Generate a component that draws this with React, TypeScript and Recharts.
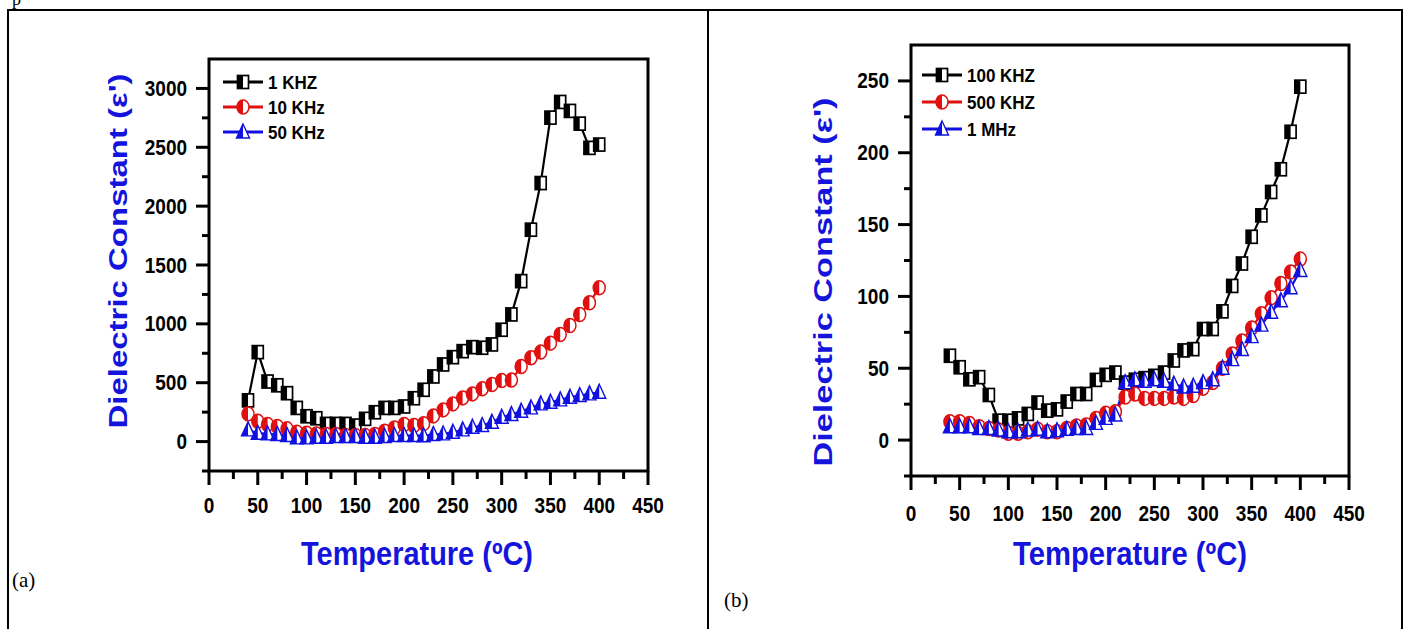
import React from 'react';
import { LineChart, Line, XAxis, YAxis, ReferenceArea } from 'recharts';

// temperature (°C) of every measurement
const TEMPS = [
  40, 50, 60, 70, 80, 90, 100, 110, 120, 130, 140, 150, 160, 170, 180, 190, 200, 210, 220,
  230, 240, 250, 260, 270, 280, 290, 300, 310, 320, 330, 340, 350, 360, 370, 380, 390, 400,
];

// panel (a)
const EPS_1KHZ = [
  350, 760, 510, 478, 411, 286, 215, 198, 150, 150, 150, 136, 193, 249, 286, 286, 298, 368, 440,
  553, 655, 717, 768, 802, 797, 825, 950, 1080, 1363, 1800, 2196, 2752, 2885, 2809, 2701, 2495, 2523,
];
const EPS_10KHZ = [
  235, 173, 145, 128, 108, 79, 71, 65, 60, 60, 51, 51, 51, 60, 88, 116, 145, 136, 152,
  218, 269, 320, 371, 405, 448, 485, 518, 522, 638, 712, 760, 836, 910, 986, 1080, 1179, 1307,
];
const EPS_50KHZ = [
  99, 71, 65, 60, 51, 31, 31, 37, 37, 43, 43, 43, 37, 37, 43, 51, 51, 51, 50,
  60, 65, 79, 99, 122, 136, 164, 207, 230, 258, 286, 320, 334, 354, 377, 391, 405, 419,
];

// panel (b)
const EPS_100KHZ = [
  58.7, 50.7, 42.3, 43.8, 31.4, 13.5, 13.5, 15.1, 18.2, 26.1, 20.5, 21.4, 26.8, 32.1, 32.1, 41.9, 45.4, 47, 40,
  42, 43.1, 44.7, 47, 55.4, 62.4, 63.3, 77.3, 77.3, 89.6, 107.3, 122.9, 141.5, 156.4, 172.7, 188.5, 214.6, 246,
];
const EPS_500KHZ = [
  12.8, 12.8, 11.6, 9.3, 8.1, 7, 4.7, 4.7, 5.8, 7.5, 5.8, 5.8, 8.1, 9.8, 10.5, 15.1, 18.6, 19.8, 30,
  32, 29, 29, 29, 30, 29, 31, 36, 40, 50, 60, 69, 78, 88, 99, 109, 117, 126,
];
const EPS_1MHZ = [
  9.3, 9.3, 9.3, 8.1, 8.1, 7, 5.8, 5.8, 7, 7.5, 5.8, 6.5, 7.5, 8.1, 8.1, 11.6, 15.1, 17.5, 40,
  42, 41, 42, 41, 39, 37, 37.5, 40, 42, 50, 56, 63, 72, 80, 89, 97, 106, 118,
];

// axis ticks (majors get a label, the rest are minor ticks)
const X_TICKS = [0, 25, 50, 75, 100, 125, 150, 175, 200, 225, 250, 275, 300, 325, 350, 375, 400, 425, 450];
const Y_TICKS_A = [-250, 0, 250, 500, 750, 1000, 1250, 1500, 1750, 2000, 2250, 2500, 2750, 3000];
const Y_TICKS_B = [-25, 0, 25, 50, 75, 100, 125, 150, 175, 200, 225, 250];

const SANS = "'Liberation Sans', Arial, Helvetica, sans-serif";
const TITLE_BLUE = '#1414dc';
const H = 629;

type MarkerProps = { cx: number; cy: number; color: string };

const HalfSquare = ({ cx, cy, color }: MarkerProps) => {
  const w = 11;
  const h = 13;
  return (
    <g>
      <rect x={cx - w / 2} y={cy - h / 2} width={w} height={h} fill="#fff" stroke={color} strokeWidth={1.7} />
      <rect x={cx - w / 2} y={cy - h / 2} width={w / 2} height={h} fill={color} />
    </g>
  );
};

const HalfCircle = ({ cx, cy, color }: MarkerProps) => {
  const rx = 6;
  const ry = 7;
  return (
    <g>
      <ellipse cx={cx} cy={cy} rx={rx} ry={ry} fill="#fff" stroke={color} strokeWidth={1.5} />
      <path d={`M${cx},${cy - ry} A${rx},${ry} 0 0 0 ${cx},${cy + ry} Z`} fill={color} />
    </g>
  );
};

const HalfTriangle = ({ cx, cy, color }: MarkerProps) => {
  const w = 13;
  const top = cy - 8;
  const bot = cy + 6;
  return (
    <g>
      <path d={`M${cx},${top} L${cx + w / 2},${bot} L${cx - w / 2},${bot} Z`} fill="#fff" stroke={color} strokeWidth={1.4} />
      <path d={`M${cx},${top} L${cx},${bot} L${cx - w / 2},${bot} Z`} fill={color} />
    </g>
  );
};

interface Series {
  key: string;
  name: string;
  values: number[];
  color: string;
  Marker: (p: MarkerProps) => React.ReactElement;
}

interface PanelProps {
  width: number;
  plot: { left: number; right: number; top: number; bottom: number };
  yDomain: [number, number];
  yTicks: number[];
  yMajor: number;
  series: Series[];
  legend: { x: number; y: number; gap: number };
  yTitle: { cx: number; cy: number; len: number };
  xTitle: { cx: number; cy: number; len: number };
  xLabelDy: number;
}

function Panel({ width, plot, yDomain, yTicks, yMajor, series, legend, yTitle, xTitle, xLabelDy }: PanelProps) {
  const rows = TEMPS.map((t, i) => {
    const row: Record<string, number> = { t };
    series.forEach((s) => {
      row[s.key] = s.values[i];
    });
    return row;
  });

  const xTick = (p: any) => {
    const v = p.payload.value;
    const major = v % 50 === 0;
    return (
      <g>
        <line x1={p.x} x2={p.x} y1={p.y} y2={p.y + (major ? 14 : 8)} stroke="#000" strokeWidth={3} />
        {major && (
          <text
            transform={`translate(${p.x}, ${p.y + xLabelDy}) scale(1, 1.12)`}
            textAnchor="middle"
            fontFamily={SANS}
            fontWeight={700}
            fontSize={19}
            fill="#000"
          >
            {v}
          </text>
        )}
      </g>
    );
  };

  const yTick = (p: any) => {
    const v = p.payload.value;
    const major = v % yMajor === 0;
    return (
      <g>
        <line x1={p.x} x2={p.x - (major ? 13 : 7)} y1={p.y} y2={p.y} stroke="#000" strokeWidth={3} />
        {major && (
          <text
            transform={`translate(${p.x - 22}, ${p.y + 7.5}) scale(1, 1.12)`}
            textAnchor="end"
            fontFamily={SANS}
            fontWeight={700}
            fontSize={19}
            fill="#000"
          >
            {v}
          </text>
        )}
      </g>
    );
  };

  return (
    <div style={{ position: 'relative', width, height: H }}>
      <LineChart
        width={width}
        height={H}
        data={rows}
        margin={{ top: plot.top, right: width - plot.right, bottom: H - plot.bottom - 40, left: plot.left - 60 }}
      >
        <XAxis
          dataKey="t"
          type="number"
          domain={[0, 450]}
          ticks={X_TICKS}
          interval={0}
          height={40}
          axisLine={false}
          tickLine={false}
          tickSize={0}
          tickMargin={0}
          tick={xTick}
          label={() => (
            <text
              transform={`translate(${xTitle.cx}, ${xTitle.cy}) scale(1, 1.25)`}
              x={-xTitle.len / 2}
              y={0}
              dominantBaseline="central"
              textLength={xTitle.len}
              lengthAdjust="spacingAndGlyphs"
              fontFamily={SANS}
              fontWeight={700}
              fontSize={26}
              fill={TITLE_BLUE}
            >
              Temperature (ºC)
            </text>
          )}
        />
        <YAxis
          type="number"
          domain={yDomain}
          ticks={yTicks}
          interval={0}
          width={60}
          allowDataOverflow
          axisLine={false}
          tickLine={false}
          tickSize={0}
          tickMargin={0}
          tick={yTick}
          label={() => (
            <text
              transform={`translate(${yTitle.cx}, ${yTitle.cy}) rotate(-90)`}
              x={-yTitle.len / 2}
              y={0}
              dominantBaseline="central"
              textLength={yTitle.len}
              lengthAdjust="spacingAndGlyphs"
              fontFamily={SANS}
              fontWeight={700}
              fontSize={25}
              fill={TITLE_BLUE}
            >
              Dielectric Constant (ε')
            </text>
          )}
        />
        <ReferenceArea x1={0} x2={450} y1={yDomain[0]} y2={yDomain[1]} fill="none" fillOpacity={0} stroke="#000" strokeWidth={3} />
        {series.map((s) => (
          <Line
            key={s.key}
            dataKey={s.key}
            type="linear"
            stroke={s.color}
            strokeWidth={2.2}
            isAnimationActive={false}
            activeDot={false}
            legendType="none"
            dot={(p: any) => <s.Marker key={`${s.key}-${p.index}`} cx={p.cx} cy={p.cy} color={s.color} />}
          />
        ))}
      </LineChart>
      {/* legend */}
      <svg width={width} height={H} style={{ position: 'absolute', left: 0, top: 0, pointerEvents: 'none' }}>
        {series.map((s, i) => {
          const y = legend.y + i * legend.gap;
          return (
            <g key={s.key}>
              <line x1={legend.x} x2={legend.x + 40} y1={y} y2={y} stroke={s.color} strokeWidth={3} />
              <s.Marker cx={legend.x + 20} cy={y} color={s.color} />
              <text
                transform={`translate(${legend.x + 45}, ${y + 6.5}) scale(1, 1.1)`}
                fontFamily={SANS}
                fontWeight={700}
                fontSize={17}
                fill="#000"
              >
                {s.name}
              </text>
            </g>
          );
        })}
      </svg>
    </div>
  );
}

const SERIES_A: Series[] = [
  { key: 'k1', name: '1 KHZ', values: EPS_1KHZ, color: '#000000', Marker: HalfSquare },
  { key: 'k10', name: '10 KHz', values: EPS_10KHZ, color: '#e01010', Marker: HalfCircle },
  { key: 'k50', name: '50 KHz', values: EPS_50KHZ, color: '#1010e0', Marker: HalfTriangle },
];

const SERIES_B: Series[] = [
  { key: 'k100', name: '100 KHZ', values: EPS_100KHZ, color: '#000000', Marker: HalfSquare },
  { key: 'k500', name: '500 KHZ', values: EPS_500KHZ, color: '#e01010', Marker: HalfCircle },
  { key: 'm1', name: '1 MHz', values: EPS_1MHZ, color: '#1010e0', Marker: HalfTriangle },
];

export default function App() {
  return (
    <div style={{ position: 'absolute', left: 0, top: 0, width: 1408, height: H, overflow: 'hidden', background: '#fff' }}>
      <span style={{ position: 'absolute', left: 12, top: -11, fontFamily: "'Liberation Serif', serif", fontSize: 18, lineHeight: '20px' }}>p</span>
      <div style={{ position: 'absolute', left: 7, top: 9, width: 1396, height: 700, border: '2px solid #000', boxSizing: 'border-box' }} />
      <div style={{ position: 'absolute', left: 707, top: 9, width: 2, height: 640, background: '#000' }} />

      <div style={{ position: 'absolute', left: 0, top: 0 }}>
        <Panel
          width={705}
          plot={{ left: 209, right: 648, top: 59, bottom: 471 }}
          yDomain={[-250, 3250]}
          yTicks={Y_TICKS_A}
          yMajor={500}
          series={SERIES_A}
          legend={{ x: 223, y: 82, gap: 25 }}
          yTitle={{ cx: 118, cy: 251, len: 355 }}
          xTitle={{ cx: 417, cy: 553, len: 232 }}
          xLabelDy={42}
        />
      </div>
      <div style={{ position: 'absolute', left: 710, top: 0 }}>
        <Panel
          width={690}
          plot={{ left: 201, right: 639, top: 45, bottom: 476 }}
          yDomain={[-25, 275]}
          yTicks={Y_TICKS_B}
          yMajor={50}
          series={SERIES_B}
          legend={{ x: 212, y: 75, gap: 27 }}
          yTitle={{ cx: 113, cy: 282, len: 369 }}
          xTitle={{ cx: 420, cy: 553, len: 234 }}
          xLabelDy={45}
        />
      </div>

      <span style={{ position: 'absolute', left: 12, top: 568, fontFamily: "'Liberation Serif', serif", fontSize: 21 }}>(a)</span>
      <span style={{ position: 'absolute', left: 724, top: 588, fontFamily: "'Liberation Serif', serif", fontSize: 21 }}>(b)</span>
    </div>
  );
}
